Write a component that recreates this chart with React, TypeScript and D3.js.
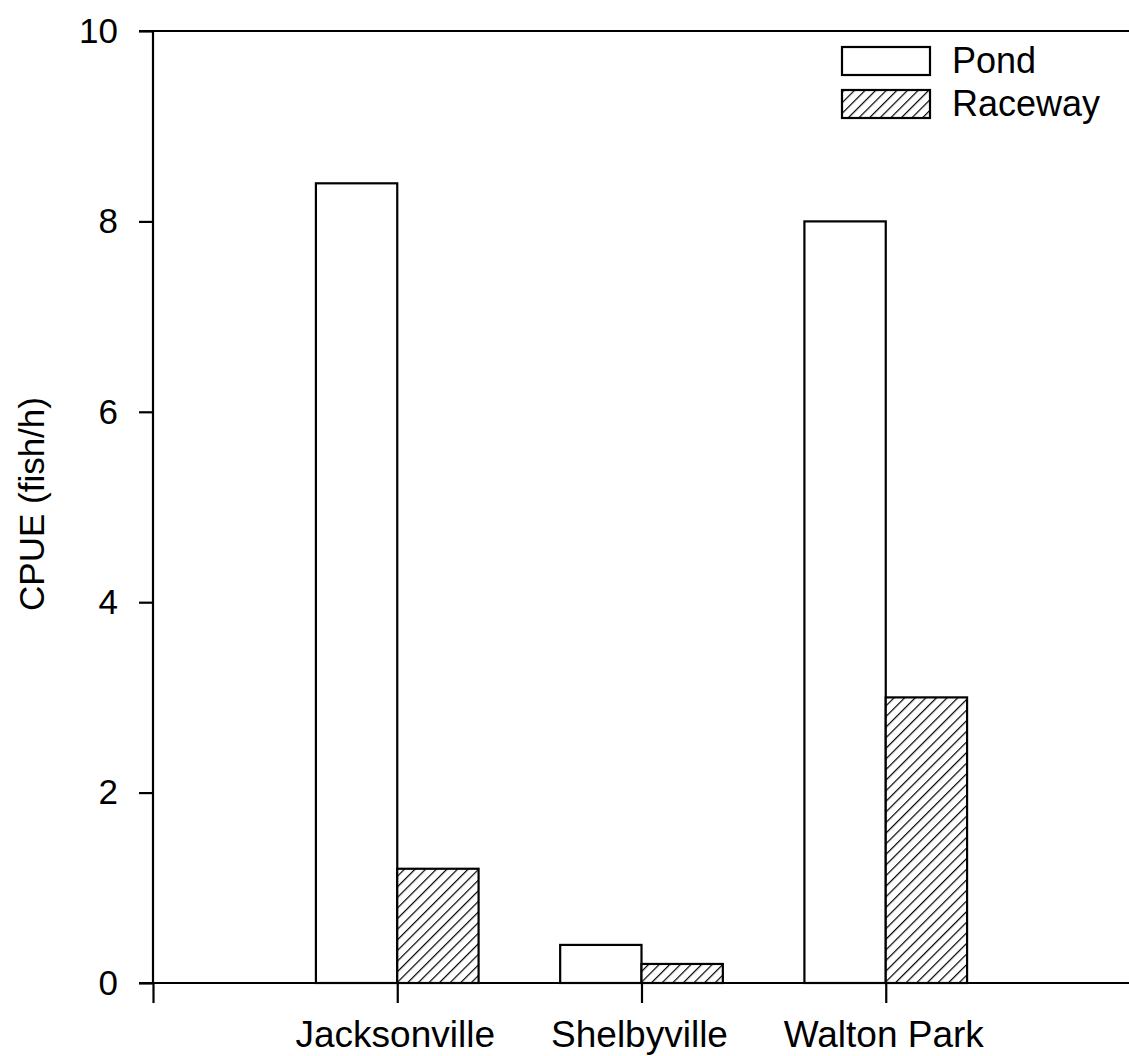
import React, { useEffect, useRef } from "react";
import * as d3 from "d3";

// Catch per unit effort by site and rearing method
const sites = ["Jacksonville", "Shelbyville", "Walton Park"];
const pondValues = [8.4, 0.4, 8.0];
const racewayValues = [1.2, 0.2, 3.0];
const yTickValues = [0, 2, 4, 6, 8, 10];
const seriesNames = ["Pond", "Raceway"];

const W = 1129;
const H = 1056;
const FONT = "'Liberation Sans', Arial, sans-serif";

export default function App() {
  const ref = useRef<SVGSVGElement | null>(null);

  useEffect(() => {
    const svg = d3.select(ref.current);
    svg.selectAll("*").remove();

    const x = d3.scaleLinear().domain([0, sites.length + 1]).range([153, 1130]);
    const y = d3.scaleLinear().domain([0, 10]).range([983, 31]);
    const barW = x(0.333) - x(0);

    const defs = svg.append("defs");
    const pat = defs
      .append("pattern")
      .attr("id", "hatch")
      .attr("patternUnits", "userSpaceOnUse")
      .attr("width", 7.5)
      .attr("height", 7.5)
      .attr("patternTransform", "rotate(45)");
    pat.append("rect").attr("width", 7.5).attr("height", 7.5).attr("fill", "#fff");
    pat
      .append("line")
      .attr("x1", 0)
      .attr("y1", 0)
      .attr("x2", 0)
      .attr("y2", 7.5)
      .attr("stroke", "#000")
      .attr("stroke-width", 2.4);

    // Bars
    const g = svg.append("g");
    sites.forEach((s, i) => {
      const cx = x(i + 1);
      g.append("rect")
        .attr("x", cx - barW)
        .attr("y", y(pondValues[i]))
        .attr("width", barW)
        .attr("height", y(0) - y(pondValues[i]))
        .attr("fill", "#fff")
        .attr("stroke", "#000")
        .attr("stroke-width", 2.2);
      g.append("rect")
        .attr("x", cx)
        .attr("y", y(racewayValues[i]))
        .attr("width", barW)
        .attr("height", y(0) - y(racewayValues[i]))
        .attr("fill", "url(#hatch)")
        .attr("stroke", "#000")
        .attr("stroke-width", 2.2);
    });

    // Top frame line
    svg
      .append("line")
      .attr("x1", 139)
      .attr("x2", W)
      .attr("y1", y(10))
      .attr("y2", y(10))
      .attr("stroke", "#000")
      .attr("stroke-width", 2.2);

    // Y axis
    const yAxis = svg
      .append("g")
      .attr("transform", `translate(${x(0)},0)`)
      .call(
        d3
          .axisLeft(y)
          .tickValues(yTickValues)
          .tickSize(14)
          .tickPadding(21)
          .tickFormat(d3.format("d"))
      );
    yAxis.select(".domain").attr("stroke-width", 2.2).attr("d", `M0,${y(0)}V${y(10)}`);
    yAxis.selectAll(".tick line").attr("stroke-width", 2.2);
    yAxis
      .selectAll(".tick text")
      .attr("font-family", FONT)
      .attr("font-size", 35)
      .attr("fill", "#000");

    // X axis
    const xAxis = svg
      .append("g")
      .attr("transform", `translate(0,${y(0)})`)
      .call(
        d3
          .axisBottom(x)
          .tickValues(d3.range(0, sites.length + 2))
          .tickSize(20)
          .tickFormat(() => "")
      );
    xAxis.select(".domain").attr("stroke-width", 2.2).attr("d", `M139,0H${W}`);
    xAxis.selectAll(".tick line").attr("stroke-width", 2.2);

    // Category labels
    svg
      .append("g")
      .selectAll("text")
      .data(sites)
      .join("text")
      .attr("x", (_d, i) => x(i + 1) - 2)
      .attr("y", 1047)
      .attr("text-anchor", "middle")
      .attr("font-family", FONT)
      .attr("font-size", 37)
      .attr("fill", "#000")
      .text((d) => d);

    // Y axis title
    svg
      .append("text")
      .attr("transform", `translate(44,504) rotate(-90)`)
      .attr("text-anchor", "middle")
      .attr("font-family", FONT)
      .attr("font-size", 35)
      .attr("fill", "#000")
      .text("CPUE (fish/h)");

    // Legend
    const legend = svg.append("g");
    seriesNames.forEach((name, i) => {
      const ly = 47 + i * 43;
      legend
        .append("rect")
        .attr("x", 842)
        .attr("y", ly)
        .attr("width", 88)
        .attr("height", 28)
        .attr("fill", i === 0 ? "#fff" : "url(#hatch)")
        .attr("stroke", "#000")
        .attr("stroke-width", 2.2);
      legend
        .append("text")
        .attr("x", 952)
        .attr("y", ly + 26)
        .attr("font-family", FONT)
        .attr("font-size", 36)
        .attr("fill", "#000")
        .text(name);
    });
  }, []);

  return (
    <svg
      ref={ref}
      width={W}
      height={H}
      style={{ position: "absolute", left: 0, top: 0, background: "#fff" }}
    />
  );
}
